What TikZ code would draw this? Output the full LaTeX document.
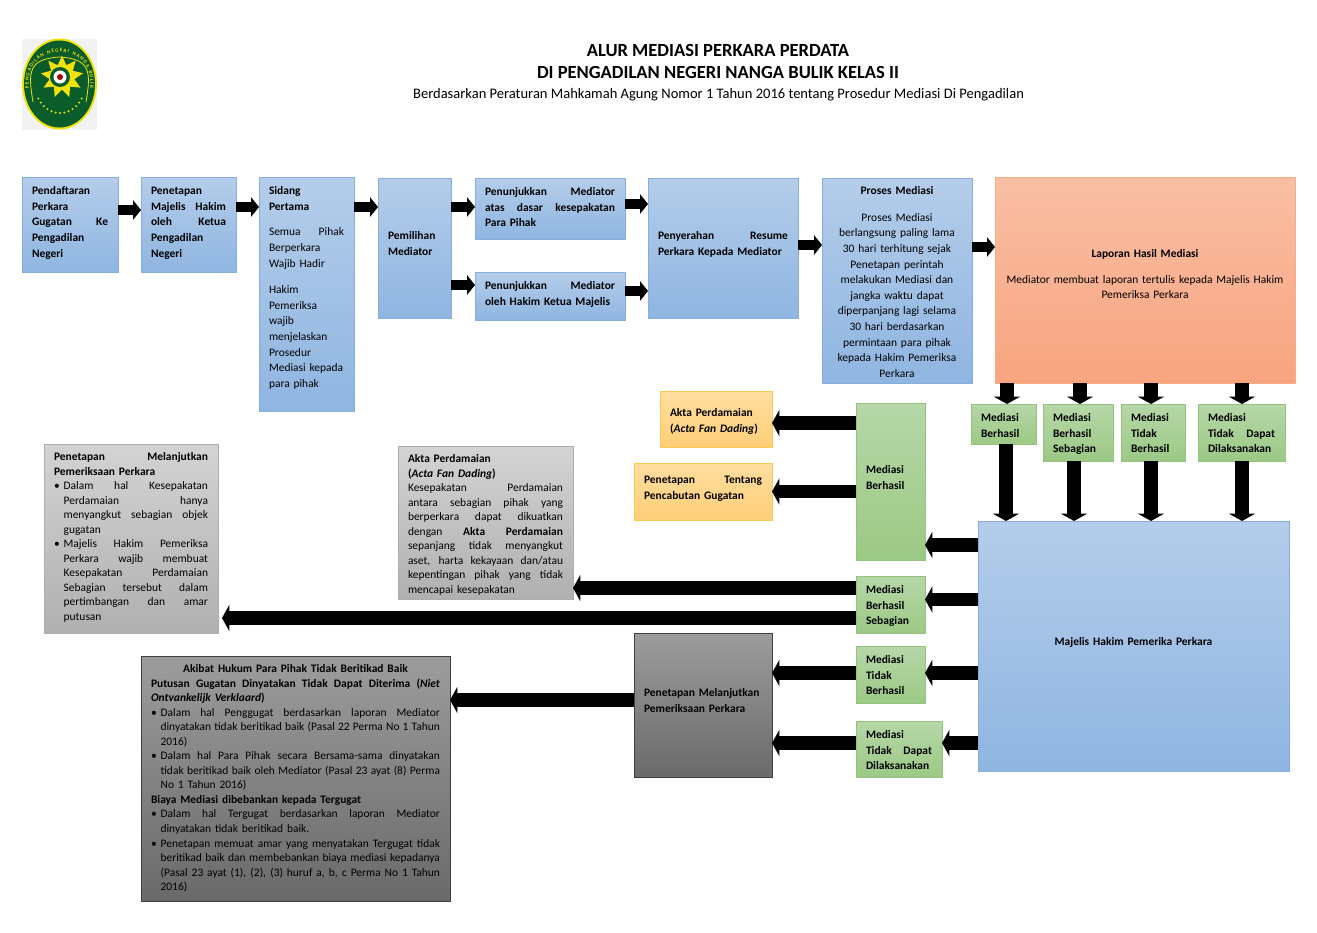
\documentclass[tikz,border=0pt]{standalone}
\usepackage{fontspec}
\setmainfont{Carlito}
\usetikzlibrary{arrows.meta,shapes.geometric,decorations.text}
\definecolor{bluetop}{HTML}{B4CDEA}\definecolor{bluebot}{HTML}{8FB5E1}\definecolor{blueline}{HTML}{86AEDE}
\definecolor{greentop}{HTML}{B6D7A8}\definecolor{greenbot}{HTML}{9CC985}\definecolor{greenline}{HTML}{93C47D}
\definecolor{goldtop}{HTML}{FFDD9F}\definecolor{goldbot}{HTML}{FFCF78}\definecolor{goldline}{HTML}{FFC84E}
\definecolor{salmontop}{HTML}{F9BFA5}\definecolor{salmonbot}{HTML}{F8A47F}\definecolor{salmonline}{HTML}{F7AE88}
\definecolor{greytop}{HTML}{D3D3D3}\definecolor{greybot}{HTML}{B0B0B0}\definecolor{greyline}{HTML}{ADADAD}
\definecolor{darktop}{HTML}{9C9C9C}\definecolor{darkbot}{HTML}{6A6A6A}\definecolor{darkline}{HTML}{3F3F3F}
\definecolor{courtgreen}{HTML}{0A5C2B}\definecolor{courtgold}{HTML}{F2E20C}
\tikzset{>=Stealth,every node/.style={font=\fontsize{8.6}{11.7}\selectfont},
  flowbox/.style={draw,line width=.7pt,anchor=north west,inner xsep=7.5pt,inner ysep=0pt,outer sep=0pt},
  bluebox/.style={flowbox,draw=blueline,top color=bluetop,bottom color=bluebot},
  greenbox/.style={flowbox,draw=greenline,top color=greentop,bottom color=greenbot},
  goldbox/.style={flowbox,draw=goldline,top color=goldtop,bottom color=goldbot},
  salmonbox/.style={flowbox,draw=salmonline,top color=salmontop,bottom color=salmonbot},
  greybox/.style={flowbox,draw=greyline,top color=greytop,bottom color=greybot},
  darkbox/.style={flowbox,draw=darkline,top color=darktop,bottom color=darkbot},
  blockarrow/.style={line width=9.8pt,-{Triangle[length=5.5pt,width=19.5pt]},black},
  smallarrow/.style={line width=7.6pt,-{Triangle[length=6pt,width=14.5pt]},black},
  titletext/.style={font=\fontsize{13.9}{16}\selectfont\bfseries}}
\newcommand{\lstrut}{\vrule height7.4pt depth3pt width0pt}
\newcommand{\pd}[1]{\vskip#1\dimexpr.75pt\relax}
\newcommand{\jl}[1]{\hbox to\hsize{\spaceskip=.226em plus 1fil minus .1em\lstrut#1}}
\newcommand{\fl}[1]{\hbox to\hsize{\lstrut#1\hss}}
\newcommand{\cl}[1]{\hbox to\hsize{\lstrut\hss#1\hss}}
\newcommand{\bjl}[1]{\hbox to\hsize{\spaceskip=.226em plus 1fil minus .1em\lstrut\hbox to7.2pt{\textbullet\hss}#1}}
\newcommand{\ijl}[1]{\hbox to\hsize{\spaceskip=.226em plus 1fil minus .1em\lstrut\hskip7.2pt#1}}
\newcommand{\inl}[1]{\hbox to\hsize{\lstrut\hskip7.2pt#1\hss}}
\newcommand{\tight}{\baselineskip=10.9pt}
% name, style, x0, y0, x1, y1, lines
\newcommand{\flowstep}[7]{\pgfmathsetlengthmacro{\tw}{(#5-#3-20)*.75}\pgfmathsetlengthmacro{\bh}{(#6-#4)*.75}%
  \node[#2,text width=\tw] (#1) at (#3,#4) {\vbox to\bh{\vskip1.3pt#7\vss}};}

\begin{document}
\begin{tikzpicture}[x=.75pt,y=-.75pt]
\useasboundingbox (0,0) rectangle (1317,932);
% logo
\fill[black!5] (22,39) rectangle (97,130);
\fill[courtgold] (59.5,84) ellipse (37.5 and 45.5);
\fill[courtgreen] (59.5,84) ellipse (35.5 and 43.5);
\draw[courtgold,line width=.6pt] (33,102) .. controls (28,72) and (28,59) .. (59.5,57) .. controls (91,59) and (91,72) .. (86,102);
\path[decorate,decoration={text along path,text align={fit to path},text={|\fontsize{3.8}{5}\selectfont\bfseries\color{courtgold}|PENGADILAN NEGERI NANGA BULIK}}] (29,88) .. controls (23,40) and (96,40) .. (90,88);
\node[star,star points=9,star point ratio=1.7,fill=courtgold,minimum size=32pt,inner sep=0pt] (logostar) at (62,77) {};
\fill[courtgreen] (60,77) circle (10);
\fill[white] (60,77) circle (6.5);
\fill[red!70!black] (60,77) circle (3);
\foreach \a in {30,40,...,150}{\fill[courtgold] ({60+25*cos(\a)},{84+29*sin(\a)}) circle (1.1);}
% titles
\node[titletext] (title1) at (718,50.5) {ALUR MEDIASI PERKARA PERDATA};
\node[titletext] (title2) at (718,72.5) {DI PENGADILAN NEGERI NANGA BULIK KELAS II};
\node[font=\fontsize{10.9}{13}\selectfont] (title3) at (718.5,94.5) {Berdasarkan Peraturan Mahkamah Agung Nomor 1 Tahun 2016 tentang Prosedur Mediasi Di Pengadilan};
% top row
\flowstep{pendaftaran}{bluebox}{22}{177}{118}{272}{\bfseries\pd{6}\fl{Pendaftaran}\fl{Perkara}\jl{Gugatan Ke}\fl{Pengadilan}\fl{Negeri}}
\flowstep{penetapan}{bluebox}{141}{177}{236}{272}{\bfseries\pd{6}\fl{Penetapan}\jl{Majelis Hakim}\jl{oleh Ketua}\fl{Pengadilan}\fl{Negeri}}
\flowstep{sidang}{bluebox}{259}{177}{354}{411}{\pd{6}\fl{\textbf{Sidang}}\fl{\textbf{Pertama}}\pd{10}\jl{Semua Pihak}\fl{Berperkara}\fl{Wajib Hadir}\pd{11}\fl{Hakim}\fl{Pemeriksa}\fl{wajib}\fl{menjelaskan}\fl{Prosedur}\fl{Mediasi kepada}\fl{para pihak}}
\flowstep{pemilihan}{bluebox}{378}{178}{451}{318}{\bfseries\pd{50}\fl{Pemilihan}\fl{Mediator}}
\flowstep{tunjukatas}{bluebox}{475}{178}{625}{239}{\bfseries\pd{6}\jl{Penunjukkan Mediator}\jl{atas dasar kesepakatan}\fl{Para Pihak}}
\flowstep{tunjukketua}{bluebox}{475}{272}{625}{320}{\bfseries\pd{6}\jl{Penunjukkan Mediator}\fl{oleh Hakim Ketua Majelis}}
\flowstep{penyerahan}{bluebox}{648}{178}{798}{318}{\bfseries\pd{50}\jl{Penyerahan Resume}\fl{Perkara Kepada Mediator}}
\flowstep{proses}{bluebox}{822}{178}{972}{383}{\pd{5}\cl{\textbf{Proses Mediasi}}\pd{11}\cl{Proses Mediasi}\cl{berlangsung paling lama}\cl{30 hari terhitung sejak}\cl{Penetapan perintah}\cl{melakukan Mediasi dan}\cl{jangka waktu dapat}\cl{diperpanjang lagi selama}\cl{30 hari berdasarkan}\cl{permintaan para pihak}\cl{kepada Hakim Pemeriksa}\cl{Perkara}}
\flowstep{laporan}{salmonbox}{995}{177}{1295}{383}{\pd{69}\cl{\textbf{Laporan Hasil Mediasi}}\pd{10}\cl{Mediator membuat laporan tertulis kepada Majelis Hakim}\cl{Pemeriksa Perkara}}
% result row
\flowstep{hasilA}{greenbox}{971}{404}{1036}{444}{\bfseries\pd{6}\fl{Mediasi}\fl{Berhasil}}
\flowstep{hasilB}{greenbox}{1043}{404}{1113}{461}{\bfseries\pd{6}\fl{Mediasi}\fl{Berhasil}\fl{Sebagian}}
\flowstep{hasilC}{greenbox}{1121}{404}{1185}{461}{\bfseries\pd{6}\fl{Mediasi}\fl{Tidak}\fl{Berhasil}}
\flowstep{hasilD}{greenbox}{1198}{404}{1285}{461}{\bfseries\pd{6}\fl{Mediasi}\jl{Tidak Dapat}\fl{Dilaksanakan}}
\flowstep{majelis}{bluebox}{978}{521}{1289}{771}{\bfseries\pd{113}\cl{Majelis Hakim Pemerika Perkara}}
% outcomes
\flowstep{berhasil}{greenbox}{856}{403}{925}{560}{\bfseries\pd{59}\fl{Mediasi}\fl{Berhasil}}
\flowstep{sebagian}{greenbox}{856}{576}{925}{633}{\bfseries\pd{6}\fl{Mediasi}\fl{Berhasil}\fl{Sebagian}}
\flowstep{tidakhasil}{greenbox}{856}{646}{925}{703}{\bfseries\pd{6}\fl{Mediasi}\fl{Tidak}\fl{Berhasil}}
\flowstep{tidakdapat}{greenbox}{856}{721}{942}{777}{\bfseries\pd{6}\fl{Mediasi}\jl{Tidak Dapat}\fl{Dilaksanakan}}
\flowstep{aktagold}{goldbox}{660}{391}{772}{447}{\bfseries\pd{14}\fl{Akta Perdamaian}\fl{(\textit{Acta Fan Dading})}}
\flowstep{cabut}{goldbox}{634}{463}{772}{520}{\bfseries\pd{9}\jl{Penetapan Tentang}\fl{Pencabutan Gugatan}}
\flowstep{lanjutdark}{darkbox}{634}{633}{772}{777}{\bfseries\pd{52}\fl{Penetapan Melanjutkan}\fl{Pemeriksaan Perkara}}
% grey text boxes
\flowstep{lanjutgrey}{greybox}{44}{444}{218}{633}{\tight\pd{5}\jl{\textbf{Penetapan Melanjutkan}}\fl{\textbf{Pemeriksaan Perkara}}
  \bjl{Dalam hal Kesepakatan}\ijl{Perdamaian hanya}\ijl{menyangkut sebagian objek}\inl{gugatan}
  \bjl{Majelis Hakim Pemeriksa}\ijl{Perkara wajib membuat}\ijl{Kesepakatan Perdamaian}\ijl{Sebagian tersebut dalam}\ijl{pertimbangan dan amar}\inl{putusan}}
\flowstep{aktagrey}{greybox}{398}{446}{573}{599}{\tight\pd{5}\fl{\textbf{Akta Perdamaian}}\fl{\textbf{(\textit{Acta Fan Dading})}}\jl{Kesepakatan Perdamaian}\jl{antara sebagian pihak yang}\jl{berperkara dapat dikuatkan}\jl{dengan \textbf{Akta Perdamaian}}\jl{sepanjang tidak menyangkut}\jl{aset, harta kekayaan dan/atau}\jl{kepentingan pihak yang tidak}\fl{mencapai kesepakatan}}
\flowstep{akibat}{darkbox}{141}{656}{450}{901}{\tight\pd{5}\cl{\textbf{Akibat Hukum Para Pihak Tidak Beritikad Baik}}\jl{\textbf{Putusan Gugatan Dinyatakan Tidak Dapat Diterima (\textit{Niet}}}\fl{\textbf{\textit{Ontvankelijk Verklaard})}}
  \bjl{Dalam hal Penggugat berdasarkan laporan Mediator}\ijl{dinyatakan tidak beritikad baik (Pasal 22 Perma No 1 Tahun}\inl{2016)}
  \bjl{Dalam hal Para Pihak secara Bersama-sama dinyatakan}\ijl{tidak beritikad baik oleh Mediator (Pasal 23 ayat (8) Perma}\inl{No 1 Tahun 2016)}
  \fl{\textbf{Biaya Mediasi dibebankan kepada Tergugat}}
  \bjl{Dalam hal Tergugat berdasarkan laporan Mediator}\inl{dinyatakan tidak beritikad baik.}
  \bjl{Penetapan memuat amar yang menyatakan Tergugat tidak}\ijl{beritikad baik dan membebankan biaya mediasi kepadanya}\ijl{(Pasal 23 ayat (1), (2), (3) huruf a, b, c Perma No 1 Tahun}\inl{2016)}}
% arrows
\foreach \from/\to/\yy in {pendaftaran/penetapan/210,penetapan/sidang/207,sidang/pemilihan/207,pemilihan/tunjukatas/207,pemilihan/tunjukketua/285,tunjukatas/penyerahan/204,tunjukketua/penyerahan/291,penyerahan/proses/245,proses/laporan/247}
  {\draw[smallarrow] (\from.east |- 0,\yy) -- (\to.west |- 0,\yy);}
\foreach \from/\to/\yy in {majelis/berhasil/545,majelis/sebagian/599.5,majelis/tidakhasil/673,majelis/tidakdapat/743,berhasil/aktagold/423,berhasil/cabut/491.5,sebagian/aktagrey/588,tidakhasil/lanjutdark/673,tidakdapat/lanjutdark/743,lanjutdark/akibat/700}
  {\draw[blockarrow] (\from.west |- 0,\yy) -- (\to.east |- 0,\yy);}
\draw[blockarrow,shorten >=3pt] (sebagian.west |- 0,618) -- (lanjutgrey.east |- 0,618);
\foreach \to/\xx in {hasilA/1007,hasilB/1080,hasilC/1151,hasilD/1242}
  {\draw[blockarrow] (\xx,0 |- laporan.south) -- (\xx,0 |- \to.north);}
\foreach \from/\xx in {hasilA/1006,hasilB/1074,hasilC/1151,hasilD/1242}
  {\draw[blockarrow] (\xx,0 |- \from.south) -- (\xx,0 |- majelis.north);}
\end{tikzpicture}
\end{document}
